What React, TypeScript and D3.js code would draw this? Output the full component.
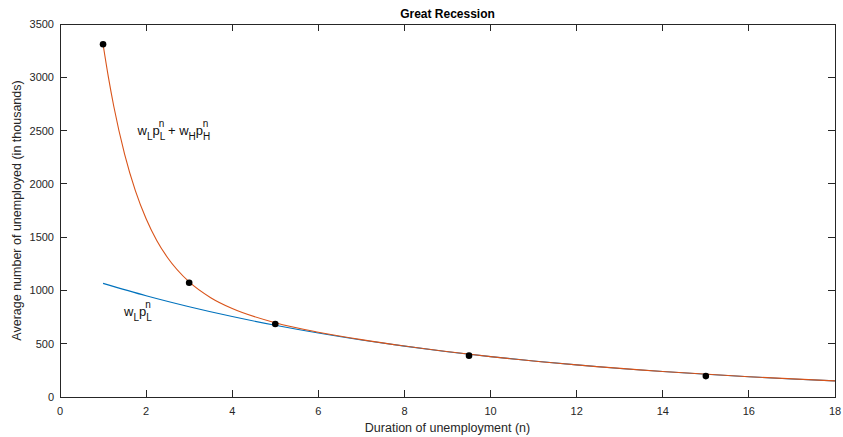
import React from "react";
import * as d3 from "d3";

const title = "Great Recession";
const xLabel = "Duration of unemployment (n)";
const yLabel = "Average number of unemployed (in thousands)";

const xTicks = [0, 2, 4, 6, 8, 10, 12, 14, 16, 18];
const yTicks = [0, 500, 1000, 1500, 2000, 2500, 3000, 3500];

// total curve (w_L p_L^n + w_H p_H^n)
const totalN = [1, 1.125, 1.25, 1.5, 1.75, 2, 2.25, 2.5, 3, 3.5, 4, 5, 6, 7, 8, 10, 12, 14, 16, 18];
const totalV = [3310, 2999, 2726, 2280, 1937, 1673, 1467, 1307, 1080, 932, 830, 697, 608, 538, 478, 379, 301, 239, 190, 151];

// low-type curve (w_L p_L^n)
const lowN = [1, 2, 3, 4, 5, 6, 7, 8, 9, 10, 11, 12, 13, 14, 15, 16, 17, 18];
const lowV = [1066, 950, 847, 755, 673, 600, 535, 477, 425, 379, 338, 301, 268, 239, 213, 190, 169, 151];

// observed points
const obsN = [1, 3, 5, 9.5, 15];
const obsV = [3310, 1072, 685, 388, 196];

const W = 843;
const H = 437;
const L = 60;
const R = 835;
const T = 24;
const B = 397;
const axisColor = "#262626";
const font = "'Liberation Sans', Arial, Helvetica, sans-serif";

export default function App() {
  const x = d3.scaleLinear().domain([0, 18]).range([L, R]);
  const y = d3.scaleLinear().domain([0, 3500]).range([B, T]);
  const line = d3
    .line<[number, number]>()
    .x((d) => x(d[0]))
    .y((d) => y(d[1]))
    .curve(d3.curveMonotoneX);
  const totalPts = totalN.map((n, i) => [n, totalV[i]] as [number, number]);
  const lowPts = lowN.map((n, i) => [n, lowV[i]] as [number, number]);
  const tl = 7;

  return (
    <svg
      width={W}
      height={H}
      style={{ position: "absolute", left: 0, top: 0, background: "#fff" }}
      fontFamily={font}
    >
      <rect x={0} y={0} width={W} height={H} fill="#fff" />
      <path d={line(lowPts) || ""} fill="none" stroke="#0072BD" strokeWidth={1.1} />
      <path d={line(totalPts) || ""} fill="none" stroke="#D95319" strokeWidth={1.1} />
      {obsN.map((n, i) => (
        <circle key={i} cx={x(n)} cy={y(obsV[i])} r={3.3} fill="#000" />
      ))}
      {/* box */}
      <rect x={L} y={T} width={R - L} height={B - T} fill="none" stroke={axisColor} strokeWidth={1} shapeRendering="crispEdges" />
      {xTicks.map((t) => (
        <g key={"x" + t}>
          <line x1={x(t)} x2={x(t)} y1={B} y2={B - tl} stroke={axisColor} shapeRendering="crispEdges" />
          <line x1={x(t)} x2={x(t)} y1={T} y2={T + tl} stroke={axisColor} shapeRendering="crispEdges" />
          <text x={x(t)} y={415} textAnchor="middle" fontSize={11} fill={axisColor}>
            {t}
          </text>
        </g>
      ))}
      {yTicks.map((t) => (
        <g key={"y" + t}>
          <line x1={L} x2={L + tl} y1={y(t)} y2={y(t)} stroke={axisColor} shapeRendering="crispEdges" />
          <line x1={R} x2={R - tl} y1={y(t)} y2={y(t)} stroke={axisColor} shapeRendering="crispEdges" />
          <text x={54} y={y(t) + 4} textAnchor="end" fontSize={11} fill={axisColor}>
            {t}
          </text>
        </g>
      ))}
      <text x={(L + R) / 2} y={18} textAnchor="middle" fontSize={12} fontWeight="bold" fill="#000">
        {title}
      </text>
      <text x={(L + R) / 2} y={432} textAnchor="middle" fontSize={12.5} fill={axisColor}>
        {xLabel}
      </text>
      <text
        transform={`translate(21,${(T + B) / 2}) rotate(-90)`}
        textAnchor="middle"
        fontSize={12.5}
        fill={axisColor}
      >
        {yLabel}
      </text>
      {/* annotations */}
      <text x={137.5} y={135} fontSize={13} fill="#111">
        w<tspan fontSize={10} dy={4.5}>L</tspan>
        <tspan dy={-4.5}>p</tspan>
        <tspan fontSize={10} dy={4.5}>L</tspan>
        <tspan fontSize={10} dx={-6.5} dy={-13}>n</tspan>
        <tspan dy={8.5}> + w</tspan>
        <tspan fontSize={10} dy={4.5}>H</tspan>
        <tspan dy={-4.5}>p</tspan>
        <tspan fontSize={10} dy={4.5}>H</tspan>
        <tspan fontSize={10} dx={-7.5} dy={-13}>n</tspan>
      </text>
      <text x={124} y={316} fontSize={13} fill="#111">
        w<tspan fontSize={10} dy={4.5}>L</tspan>
        <tspan dy={-4.5}>p</tspan>
        <tspan fontSize={10} dy={4.5}>L</tspan>
        <tspan fontSize={10} dx={-6.5} dy={-13}>n</tspan>
      </text>
    </svg>
  );
}
